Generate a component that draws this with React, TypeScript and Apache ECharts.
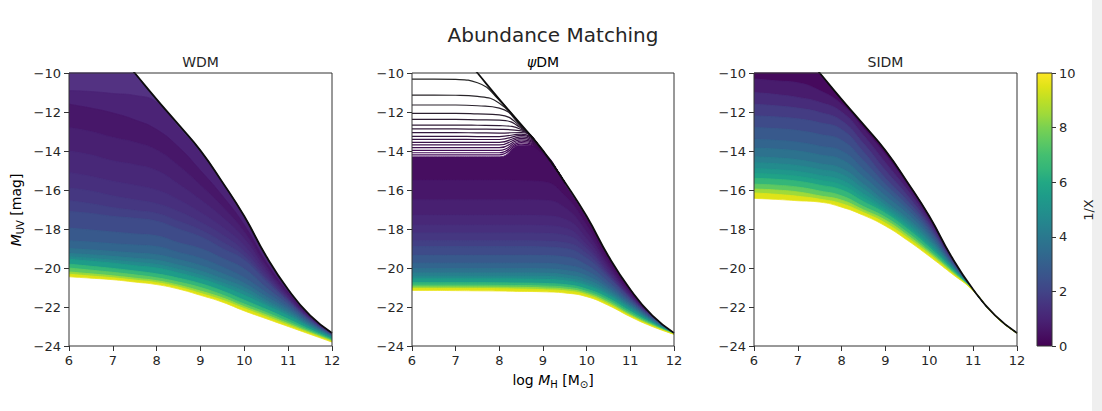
import { useEffect, useRef } from 'react';
import * as echarts from 'echarts';

// ---------- data ----------
const logMh = [6, 6.5, 7, 7.5, 8, 8.5, 9, 9.5, 10, 10.5, 11, 11.5, 12];

// CDM reference relation (black curve, shared by the three panels)
const cdm = [-6.0, -7.3, -8.65, -10.0, -11.35, -12.65, -13.98, -15.6, -17.35, -19.4, -21.1, -22.43, -23.33];

// WDM: curves of constant 1/X, top to bottom
const wdmInvX = [0.25, 0.5, 0.75, 1, 1.25, 1.5, 1.75, 2, 2.5, 3, 3.5, 4, 4.5, 5, 6, 7, 8, 9, 10];
const wdmCurves = [
  [-10.9, -10.95, -11.05, -11.15, -11.5, -12.8, -14.1, -15.7, -17.45, -19.48, -21.15, -22.45, -23.34],
  [-11.6, -11.8, -12.05, -12.4, -12.9, -13.8, -15.0, -16.3, -17.8, -19.7, -21.25, -22.5, -23.36],
  [-12.8, -13.0, -13.3, -13.55, -13.95, -14.75, -15.75, -16.85, -18.15, -19.9, -21.35, -22.53, -23.375],
  [-14.0, -14.2, -14.5, -14.7, -15.0, -15.7, -16.5, -17.4, -18.5, -20.1, -21.45, -22.56, -23.39],
  [-15.1, -15.3, -15.55, -15.75, -16.0, -16.5, -17.15, -17.9, -18.85, -20.28, -21.53, -22.59, -23.4],
  [-15.9, -16.05, -16.3, -16.5, -16.7, -17.1, -17.65, -18.3, -19.15, -20.45, -21.6, -22.62, -23.41],
  [-16.55, -16.7, -16.9, -17.05, -17.2, -17.6, -18.05, -18.67, -19.4, -20.58, -21.66, -22.65, -23.42],
  [-17.1, -17.2, -17.35, -17.45, -17.6, -18.0, -18.4, -19.0, -19.6, -20.7, -21.72, -22.68, -23.43],
  [-17.95, -18.05, -18.15, -18.25, -18.35, -18.7, -19.0, -19.5, -20.05, -21.0, -21.86, -22.74, -23.45],
  [-18.6, -18.67, -18.75, -18.82, -18.9, -19.2, -19.5, -19.95, -20.5, -21.25, -22.0, -22.8, -23.47],
  [-19.0, -19.07, -19.15, -19.23, -19.32, -19.57, -19.87, -20.28, -20.78, -21.47, -22.13, -22.87, -23.5],
  [-19.25, -19.32, -19.4, -19.5, -19.6, -19.85, -20.15, -20.55, -21.0, -21.65, -22.25, -22.93, -23.52],
  [-19.42, -19.5, -19.6, -19.7, -19.82, -20.07, -20.37, -20.76, -21.2, -21.8, -22.35, -23.0, -23.55],
  [-19.55, -19.65, -19.75, -19.88, -20.0, -20.25, -20.55, -20.93, -21.4, -21.92, -22.45, -23.05, -23.58],
  [-19.8, -19.91, -20.02, -20.15, -20.3, -20.52, -20.8, -21.18, -21.65, -22.12, -22.62, -23.15, -23.64],
  [-20.0, -20.11, -20.22, -20.35, -20.5, -20.72, -21.0, -21.38, -21.85, -22.28, -22.75, -23.23, -23.69],
  [-20.2, -20.3, -20.4, -20.52, -20.65, -20.88, -21.18, -21.53, -21.98, -22.4, -22.85, -23.3, -23.73],
  [-20.32, -20.41, -20.5, -20.62, -20.75, -20.98, -21.3, -21.65, -22.08, -22.5, -22.93, -23.35, -23.77],
  [-20.45, -20.52, -20.6, -20.72, -20.85, -21.08, -21.4, -21.75, -22.2, -22.6, -23.0, -23.4, -23.8],
];

// psiDM: dense curves of constant 1/X, top to bottom
const psiInvX = [0.2, 0.5, 0.75, 1, 1.25, 1.5, 1.75, 2, 2.5, 3, 3.5, 4, 4.5, 5, 6, 7, 8, 9, 10];
const psiCurves = [
  [-14.3, -14.3, -14.3, -14.3, -14.3, -13.7, -14.05, -15.68, -17.4, -19.42, -21.1, -22.43, -23.34],
  [-15.5, -15.5, -15.5, -15.5, -15.5, -15.52, -15.58, -16.3, -17.8, -19.7, -21.25, -22.48, -23.35],
  [-16.5, -16.5, -16.5, -16.5, -16.5, -16.5, -16.52, -16.9, -18.15, -19.88, -21.33, -22.49, -23.355],
  [-17.3, -17.3, -17.3, -17.3, -17.3, -17.3, -17.32, -17.5, -18.5, -20.05, -21.4, -22.5, -23.36],
  [-17.8, -17.8, -17.8, -17.8, -17.8, -17.8, -17.82, -17.95, -18.8, -20.2, -21.45, -22.51, -23.36],
  [-18.2, -18.2, -18.2, -18.2, -18.2, -18.2, -18.22, -18.32, -19.0, -20.3, -21.5, -22.52, -23.36],
  [-18.6, -18.6, -18.6, -18.6, -18.6, -18.6, -18.62, -18.7, -19.25, -20.4, -21.55, -22.53, -23.36],
  [-18.9, -18.9, -18.9, -18.9, -18.9, -18.9, -18.92, -19.0, -19.5, -20.5, -21.6, -22.55, -23.36],
  [-19.35, -19.35, -19.35, -19.35, -19.35, -19.35, -19.36, -19.43, -19.85, -20.72, -21.7, -22.58, -23.365],
  [-19.75, -19.75, -19.75, -19.75, -19.75, -19.75, -19.76, -19.85, -20.15, -20.9, -21.78, -22.62, -23.37],
  [-20.03, -20.03, -20.03, -20.03, -20.03, -20.03, -20.04, -20.12, -20.4, -21.05, -21.87, -22.66, -23.37],
  [-20.25, -20.25, -20.25, -20.25, -20.25, -20.25, -20.26, -20.35, -20.6, -21.18, -21.95, -22.7, -23.37],
  [-20.42, -20.42, -20.42, -20.42, -20.42, -20.42, -20.43, -20.51, -20.77, -21.3, -22.03, -22.74, -23.375],
  [-20.55, -20.55, -20.55, -20.55, -20.55, -20.56, -20.58, -20.65, -20.9, -21.4, -22.1, -22.77, -23.38],
  [-20.75, -20.75, -20.75, -20.75, -20.76, -20.77, -20.79, -20.85, -21.08, -21.55, -22.22, -22.83, -23.38],
  [-20.88, -20.88, -20.88, -20.88, -20.89, -20.9, -20.92, -20.98, -21.2, -21.67, -22.32, -22.88, -23.38],
  [-20.97, -20.97, -20.97, -20.97, -20.98, -20.99, -21.02, -21.08, -21.3, -21.77, -22.4, -22.93, -23.39],
  [-21.05, -21.05, -21.05, -21.05, -21.06, -21.08, -21.11, -21.17, -21.38, -21.85, -22.45, -22.97, -23.39],
  [-21.15, -21.15, -21.16, -21.17, -21.18, -21.2, -21.22, -21.28, -21.47, -21.92, -22.5, -23.0, -23.4],
];

// psiDM: the separate dark curves of the smallest 1/X (x = 6 ... 9.5)
const psiDarkLines = [
  [-10.31, -10.31, -10.33, -10.5, -11.4, -12.68, -14.0, -15.62],
  [-11.13, -11.13, -11.14, -11.2, -11.55, -12.7, -14.0, -15.62],
  [-11.64, -11.64, -11.64, -11.68, -11.8, -12.73, -14.0, -15.63],
  [-12.07, -12.07, -12.07, -12.1, -12.15, -12.78, -14.01, -15.63],
  [-12.38, -12.38, -12.38, -12.4, -12.42, -12.83, -14.02, -15.63],
  [-12.67, -12.67, -12.67, -12.68, -12.7, -12.9, -14.03, -15.64],
  [-12.87, -12.87, -12.87, -12.88, -12.89, -12.97, -14.04, -15.64],
  [-13.06, -13.06, -13.06, -13.07, -13.08, -13.05, -14.05, -15.64],
  [-13.25, -13.25, -13.25, -13.26, -13.26, -13.13, -14.06, -15.65],
  [-13.4, -13.4, -13.4, -13.41, -13.41, -13.2, -14.07, -15.65],
  [-13.56, -13.56, -13.56, -13.56, -13.56, -13.28, -14.08, -15.65],
  [-13.69, -13.69, -13.69, -13.69, -13.69, -13.35, -14.09, -15.66],
  [-13.83, -13.83, -13.83, -13.83, -13.83, -13.43, -14.1, -15.66],
  [-13.97, -13.97, -13.97, -13.97, -13.97, -13.5, -14.11, -15.67],
  [-14.09, -14.09, -14.09, -14.09, -14.09, -13.57, -14.12, -15.68],
  [-14.2, -14.2, -14.2, -14.2, -14.2, -13.65, -14.13, -15.7],
];

// SIDM: curves of constant 1/X, top to bottom
const sidmInvX = [0.5, 1, 1.5, 2, 2.5, 3, 3.5, 4, 4.5, 5, 5.5, 6, 7, 8, 9, 10];
const sidmCurves = [
  [-10.3, -10.4, -10.5, -10.9, -11.6, -12.85, -14.2, -15.75, -17.45, -19.45, -21.1, -22.43, -23.33],
  [-11.0, -11.1, -11.25, -11.5, -12.0, -13.2, -14.6, -16.0, -17.6, -19.5, -21.11, -22.43, -23.33],
  [-11.6, -11.68, -11.8, -12.02, -12.45, -13.62, -15.0, -16.28, -17.75, -19.55, -21.115, -22.435, -23.33],
  [-12.2, -12.25, -12.35, -12.55, -12.9, -14.05, -15.4, -16.55, -17.9, -19.6, -21.12, -22.44, -23.33],
  [-12.8, -12.85, -12.95, -13.15, -13.45, -14.5, -15.7, -16.78, -18.05, -19.66, -21.12, -22.44, -23.335],
  [-13.4, -13.45, -13.55, -13.75, -14.0, -14.95, -16.0, -17.0, -18.2, -19.72, -21.12, -22.44, -23.34],
  [-13.85, -13.9, -14.0, -14.2, -14.45, -15.33, -16.3, -17.22, -18.35, -19.78, -21.125, -22.44, -23.34],
  [-14.3, -14.35, -14.45, -14.65, -14.9, -15.7, -16.6, -17.45, -18.5, -19.83, -21.13, -22.44, -23.34],
  [-14.6, -14.65, -14.75, -14.95, -15.2, -15.95, -16.78, -17.6, -18.63, -19.88, -21.13, -22.445, -23.34],
  [-14.9, -14.95, -15.05, -15.25, -15.5, -16.2, -16.95, -17.75, -18.75, -19.93, -21.13, -22.45, -23.34],
  [-15.15, -15.2, -15.3, -15.5, -15.75, -16.4, -17.08, -17.88, -18.85, -19.98, -21.135, -22.45, -23.34],
  [-15.4, -15.45, -15.55, -15.75, -16.0, -16.6, -17.2, -18.0, -18.95, -20.02, -21.14, -22.45, -23.34],
  [-15.7, -15.75, -15.85, -16.05, -16.3, -16.85, -17.4, -18.18, -19.1, -20.1, -21.14, -22.45, -23.35],
  [-15.95, -16.0, -16.1, -16.3, -16.52, -17.02, -17.55, -18.32, -19.2, -20.16, -21.15, -22.46, -23.35],
  [-16.15, -16.22, -16.32, -16.47, -16.7, -17.16, -17.7, -18.45, -19.3, -20.22, -21.15, -22.46, -23.35],
  [-16.43, -16.48, -16.55, -16.62, -16.88, -17.3, -17.85, -18.58, -19.4, -20.27, -21.16, -22.46, -23.35],
];

const panelTitles = ['WDM', 'ψDM', 'SIDM'];
const colorbarMax = 10;

// ---------- style ----------
const FONT = 'DejaVu Sans';
const TEXT = '#262626';
const SPINE = '#333333';
const WDM_TOP_FILLS = ['#533282', '#4b2376']; // striped top-left region of the WDM panel
const VIRIDIS = [
  '#440154', '#471365', '#482475', '#46337f', '#414487', '#3b528b', '#355f8d',
  '#2f6c8e', '#2a788e', '#25858e', '#21918c', '#1e9c89', '#22a884', '#34b679',
  '#44bf70', '#5ec962', '#7ad151', '#9fda3a', '#bddf26', '#dfe318', '#fde725',
];

function hexToRgb(h: string) {
  return [parseInt(h.slice(1, 3), 16), parseInt(h.slice(3, 5), 16), parseInt(h.slice(5, 7), 16)];
}
function viridis(t: number) {
  const c = Math.max(0, Math.min(1, t)) * (VIRIDIS.length - 1);
  const i = Math.min(Math.floor(c), VIRIDIS.length - 2);
  const f = c - i;
  const a = hexToRgb(VIRIDIS[i]);
  const b = hexToRgb(VIRIDIS[i + 1]);
  const m = a.map((v, k) => Math.round(v + (b[k] - v) * f));
  return `rgb(${m[0]},${m[1]},${m[2]})`;
}

const grids = [
  { left: 69, top: 73, width: 263, height: 273 },
  { left: 412, top: 73, width: 262, height: 273 },
  { left: 754, top: 73, width: 263, height: 273 },
];

const minus = (v: number) => (v < 0 ? '\u2212' + Math.abs(v) : String(v));

function pts(curve: number[]) {
  return curve.map((y, k) => [logMh[k], y]);
}

const SMOOTH = 0.5;

function bandSeries(g: number, curves: number[][], levels: number[], topFills: string[] = []) {
  return curves.map((c, i) => {
    const last = i === curves.length - 1;
    let fill = last ? '#ffffff' : viridis((levels[i] + levels[i + 1]) / 2);
    if (i < topFills.length) fill = topFills[i];
    const lineCol = last ? viridis(0.97) : fill;
    return {
      type: 'line',
      xAxisIndex: g,
      yAxisIndex: g,
      data: pts(c),
      smooth: SMOOTH,
      symbol: 'none',
      silent: true,
      emphasis: { disabled: true },
      lineStyle: { color: lineCol, width: 0.8 },
      areaStyle: { color: fill, opacity: 1, origin: 'start' },
      z: 2,
    };
  });
}

function cdmLine(g: number) {
  return {
    type: 'line',
    xAxisIndex: g,
    yAxisIndex: g,
    data: pts(cdm),
    smooth: SMOOTH,
    symbol: 'none',
    silent: true,
    emphasis: { disabled: true },
    lineStyle: { color: '#0d0d0d', width: 1.8 },
    z: 4,
  };
}

function buildOption() {
  const series: any[] = [];
  // WDM
  series.push(...bandSeries(0, [cdm, ...wdmCurves], [0, ...wdmInvX.map((v) => v / colorbarMax)], WDM_TOP_FILLS));
  series.push(cdmLine(0));
  // psiDM
  series.push(...bandSeries(1, psiCurves, psiInvX.map((v) => v / colorbarMax)));
  psiDarkLines.forEach((c, i) => {
    const f = i / (psiDarkLines.length - 1);
    const a = hexToRgb('#262626');
    const b = hexToRgb('#44095a');
    const m = a.map((v, k) => Math.round(v + (b[k] - v) * f));
    series.push({
      type: 'line',
      xAxisIndex: 1,
      yAxisIndex: 1,
      data: pts(c),
      smooth: SMOOTH,
      symbol: 'none',
      silent: true,
      emphasis: { disabled: true },
      lineStyle: { color: `rgb(${m[0]},${m[1]},${m[2]})`, width: 1.2 },
      z: 3,
    });
  });
  series.push(cdmLine(1));
  // SIDM
  series.push(...bandSeries(2, [cdm, ...sidmCurves], [0, ...sidmInvX.map((v) => v / colorbarMax)]));
  series.push(cdmLine(2));
  // colour bar
  series.push({
    type: 'bar',
    xAxisIndex: 3,
    yAxisIndex: 3,
    data: [colorbarMax],
    barWidth: '100%',
    silent: true,
    itemStyle: {
      color: new echarts.graphic.LinearGradient(
        0, 1, 0, 0,
        VIRIDIS.map((c, i) => ({ offset: i / (VIRIDIS.length - 1), color: c }))
      ),
    },
  });

  const axisLabel = { color: TEXT, fontFamily: FONT, fontSize: 13 };
  const tick = { show: true, length: 5, lineStyle: { color: SPINE, width: 1 } };

  const xAxis: any[] = grids.map((_, g) => ({
    gridIndex: g,
    type: 'value',
    min: 6,
    max: 12,
    interval: 1,
    axisLine: { show: false },
    axisTick: tick,
    axisLabel: { ...axisLabel, margin: 8 },
    splitLine: { show: false },
    z: 6,
  }));
  xAxis.push({ gridIndex: 3, type: 'category', data: ['1/X'], show: false });

  const yAxis: any[] = grids.map((_, g) => ({
    gridIndex: g,
    type: 'value',
    min: -24,
    max: -10,
    interval: 2,
    axisLine: { show: false },
    axisTick: tick,
    axisLabel: { ...axisLabel, margin: 8, formatter: minus },
    splitLine: { show: false },
    z: 6,
  }));
  yAxis.push({
    gridIndex: 3,
    type: 'value',
    position: 'right',
    min: 0,
    max: colorbarMax,
    interval: 2,
    axisLine: { show: false },
    axisTick: { show: true, length: 4, lineStyle: { color: SPINE } },
    axisLabel: { ...axisLabel, margin: 7 },
    splitLine: { show: false },
    z: 6,
  });

  const gridOpts: any[] = grids.map((gr) => ({
    ...gr,
    show: true,
    borderColor: SPINE,
    borderWidth: 1,
    backgroundColor: 'transparent',
    z: 5,
  }));
  gridOpts.push({
    left: 1037,
    top: 73,
    width: 15,
    height: 273,
    show: true,
    borderColor: SPINE,
    borderWidth: 1,
    backgroundColor: 'transparent',
    z: 5,
  });

  const centers = grids.map((g) => g.left + g.width / 2);
  const rich = {
    n: { fontFamily: FONT, fontSize: 14, color: TEXT, lineHeight: 18, verticalAlign: 'middle' },
    i: { fontFamily: FONT, fontSize: 14, color: TEXT, fontStyle: 'italic', lineHeight: 18, verticalAlign: 'middle' },
    s: { fontFamily: FONT, fontSize: 10, color: TEXT, lineHeight: 10, verticalAlign: 'bottom' },
  };

  const graphic: any[] = [
    { type: 'rect', shape: { x: 1092, y: 0, width: 10, height: 411 }, style: { fill: '#efefef' }, silent: true },
    {
      type: 'text',
      x: 553,
      y: 35,
      style: { text: 'Abundance Matching', fontFamily: FONT, fontSize: 20, fill: TEXT, align: 'center', verticalAlign: 'middle' },
    },
    ...panelTitles.map((t, g) => ({
      type: 'text',
      x: centers[g],
      y: 62,
      style: g === 1
        ? {
            text: '{i|ψ}{n|DM}',
            rich: { i: { ...rich.i, fontSize: 14 }, n: { ...rich.n, fontSize: 14 } },
            align: 'center',
            verticalAlign: 'middle',
          }
        : { text: t, fontFamily: FONT, fontSize: 14, fill: TEXT, align: 'center', verticalAlign: 'middle' },
    })),
    {
      type: 'text',
      x: 16,
      y: 210,
      rotation: Math.PI / 2,
      style: { text: '{i|M}{s|UV}{n| [mag]}', rich, align: 'center', verticalAlign: 'middle' },
    },
    {
      type: 'text',
      x: 553,
      y: 380,
      style: { text: '{n|log }{i|M}{s|H}{n| [M}{s|⊙}{n|]}', rich, align: 'center', verticalAlign: 'middle' },
    },
    {
      type: 'text',
      x: 1088,
      y: 210,
      rotation: Math.PI / 2,
      style: { text: '1/X', fontFamily: FONT, fontSize: 13, fill: TEXT, align: 'center', verticalAlign: 'middle' },
    },
  ];

  return {
    animation: false,
    backgroundColor: '#ffffff',
    grid: gridOpts,
    xAxis,
    yAxis,
    series,
    graphic,
  };
}

export default function App() {
  const ref = useRef<HTMLDivElement>(null);
  useEffect(() => {
    const chart = echarts.init(ref.current!, null, { renderer: 'svg' });
    chart.setOption(buildOption() as any);
    return () => chart.dispose();
  }, []);
  return (
    <div
      ref={ref}
      style={{ position: 'fixed', left: 0, top: 0, width: 1102, height: 411, background: '#fff' }}
    />
  );
}
